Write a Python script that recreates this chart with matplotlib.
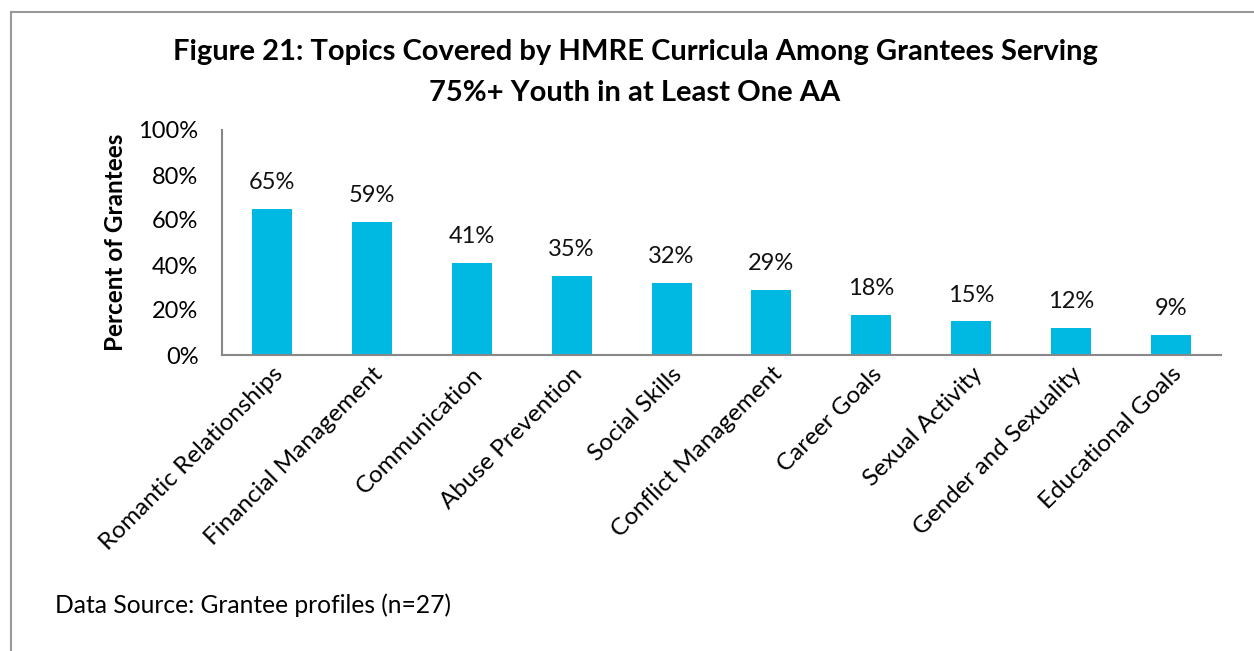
import matplotlib
matplotlib.use("Agg")
import matplotlib.pyplot as plt
from matplotlib.lines import Line2D

categories = ["Romantic Relationships", "Financial Management", "Communication",
              "Abuse Prevention", "Social Skills", "Conflict Management",
              "Career Goals", "Sexual Activity", "Gender and Sexuality",
              "Educational Goals"]
values = [65, 59, 41, 35, 32, 29, 18, 15, 12, 9]
yticks = [0, 20, 40, 60, 80, 100]
ytick_labels = ["0%", "20%", "40%", "60%", "80%", "100%"]

plt.rcParams['font.family'] = ['Lato', 'DejaVu Sans']

W, H = 1254, 651
fig = plt.figure(figsize=(W / 100, H / 100), dpi=100)
ax = fig.add_axes([222 / W, 1 - 355 / H, (1221 - 222) / W, (355 - 130) / H])

x = list(range(len(categories)))
ax.bar(x, values, width=0.4, color="#00B9E3")
for xi, v in zip(x, values):
    ax.text(xi, v + 7, f"{v}%", ha="center", va="bottom", fontsize=17, color="#111111")

ax.set_xlim(-0.5, len(categories) - 0.5)
ax.set_ylim(0, 100)
ax.set_yticks(yticks)
ax.set_yticklabels(ytick_labels, fontsize=17)
ax.set_xticks(x)
ax.set_xticklabels(categories, rotation=45, ha="right", rotation_mode="anchor", fontsize=17.5)
ax.tick_params(axis="y", length=0, pad=17)
ax.tick_params(axis="x", length=0, pad=6)
for s in ["top", "right"]:
    ax.spines[s].set_visible(False)
for s in ["left", "bottom"]:
    ax.spines[s].set_color("#888888")
    ax.spines[s].set_linewidth(1.5)
ax.set_ylabel("Percent of Grantees", fontsize=17.5, fontweight="bold", labelpad=8)

fig.text(635 / W, 1 - 52 / H, "Figure 21: Topics Covered by HMRE Curricula Among Grantees Serving",
         ha="center", va="center", fontsize=21, fontweight="bold")
fig.text(635 / W, 1 - 93 / H, "75%+ Youth in at Least One AA",
         ha="center", va="center", fontsize=21, fontweight="bold")
fig.text(55 / W, 1 - 605 / H, "Data Source: Grantee profiles (n=27)", ha="left", va="center", fontsize=17.7)

# border lines
fig.add_artist(Line2D([11 / W, 11 / W], [0, 1 - 12 / H], transform=fig.transFigure, color="#999999", lw=1.5))
fig.add_artist(Line2D([11 / W, 1], [1 - 12 / H, 1 - 12 / H], transform=fig.transFigure, color="#999999", lw=1.5))

fig.savefig("out.png", dpi=100)
